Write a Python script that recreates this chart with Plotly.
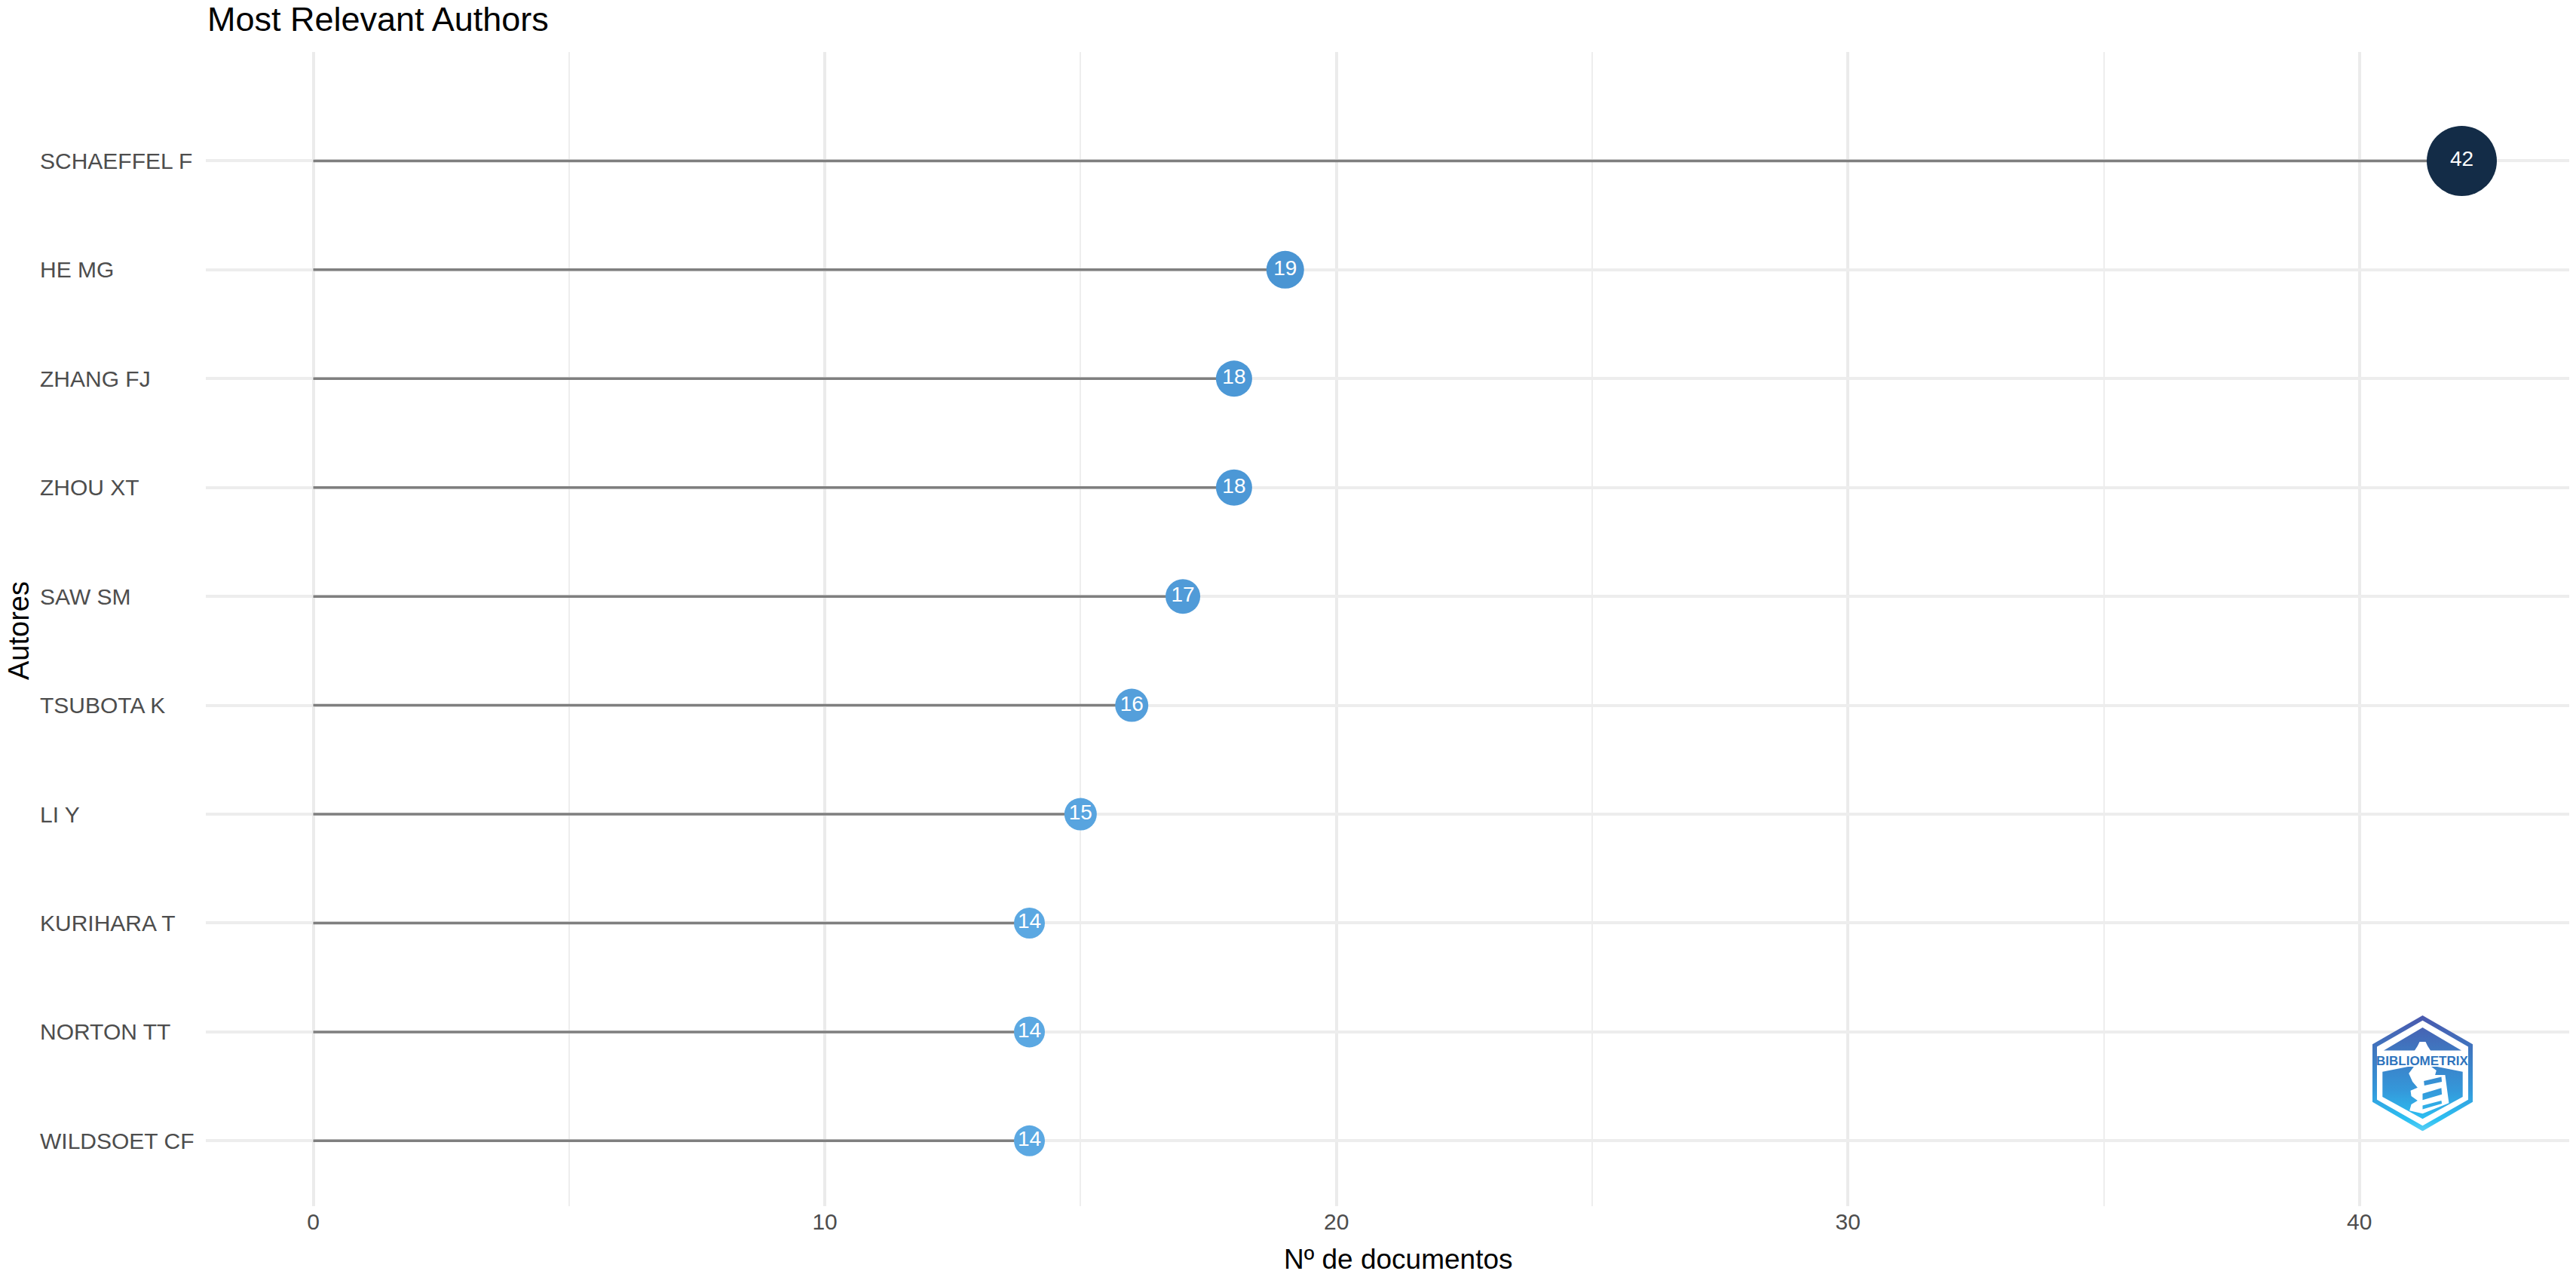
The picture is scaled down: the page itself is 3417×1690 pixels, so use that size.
import base64
import plotly.graph_objects as go

# Data (bottom to top, as drawn on the category axis)
authors = ["WILDSOET CF", "NORTON TT", "KURIHARA T", "LI Y", "TSUBOTA K",
           "SAW SM", "ZHOU XT", "ZHANG FJ", "HE MG", "SCHAEFFEL F"]
documents = [14, 14, 14, 15, 16, 17, 18, 18, 19, 42]
x_ticks = [0, 10, 20, 30, 40]
x_minor_ticks = [5, 15, 25, 35]

title_text = "Most Relevant Authors"
x_title = "Nº de documentos"
y_title = "Autores"
logo_text = "BIBLIOMETRIX"

# Style
FONT = "Liberation Sans"
marker_px = {14: 41, 15: 43, 16: 44, 17: 46, 18: 48, 19: 50, 42: 93}
marker_col = {14: "#5ba8e2", 15: "#58a4df", 16: "#549fdb", 17: "#509bd8",
              18: "#4c98d6", 19: "#4a95d3", 42: "#132c47"}

W, H = 3417, 1690
L, R, T, B = 273, 3408, 69, 1600   # panel edges in pixels
PW, PH = R - L, B - T


def px(x):
    return (x - L) / PW


def py(y):
    return (B - y) / PH


logo_svg = """<svg xmlns="http://www.w3.org/2000/svg" viewBox="290 140 400 462" width="800" height="924">
<defs><linearGradient id="g" gradientUnits="userSpaceOnUse" x1="0" y1="140" x2="0" y2="602">
<stop offset="0" stop-color="#4a58ad"/><stop offset="0.3" stop-color="#3f77c0"/>
<stop offset="0.65" stop-color="#3498da"/><stop offset="0.9" stop-color="#2cc0f2"/>
<stop offset="1" stop-color="#5cd0f5"/></linearGradient></defs>
<path fill="url(#g)" d="M490 140 L690 255 L690 485 L490 602 L290 485 L290 255 Z"/>
<path fill="#ffffff" d="M490 160 L672 265 L672 476 L490 580 L308 476 L308 265 Z"/>
<path fill="url(#g)" d="M490 188 L645 280 L335 280 Z"/>
<path fill="url(#g)" d="M330 365 L432 345 L548 345 L650 365 L650 465 L490 553 L330 465 Z"/>
<path fill="#ffffff" d="M478 245 L502 245 L510 262 L525 285 L525 345 L545 360 L540 378 L580 378 L595 490 L490 532 L438 520 L445 495 L470 480 L445 462 L442 440 L470 428 L450 405 L435 372 L455 345 L455 285 L470 262 Z"/>
<path fill="url(#g)" d="M495 402 L565 385 L567 405 L497 420 Z"/>
<path fill="url(#g)" d="M490 452 L565 430 L567 455 L490 478 Z"/>
<path fill="url(#g)" d="M490 500 L565 480 L567 492 L490 515 Z"/>
</svg>"""
logo_uri = "data:image/svg+xml;base64," + base64.b64encode(logo_svg.encode()).decode()

stem_x, stem_y = [], []
for a, d in zip(authors, documents):
    stem_x += [0, d, None]
    stem_y += [a, a, None]

fig = go.Figure()
fig.add_trace(go.Scatter(x=stem_x, y=stem_y, mode="lines",
                         line=dict(color="#7f7f7f", width=3.5),
                         hoverinfo="skip", showlegend=False))
fig.add_trace(go.Scatter(x=documents, y=authors, mode="markers+text",
                         text=[str(d) for d in documents],
                         textposition="middle center",
                         textfont=dict(family=FONT, size=28, color="#ffffff"),
                         marker=dict(size=[marker_px[d] for d in documents],
                                     color=[marker_col[d] for d in documents],
                                     line=dict(width=0), opacity=1),
                         showlegend=False))

annotations = [
    dict(text=a, xref="paper", yref="y", x=px(51), y=a, xanchor="left", yanchor="middle",
         showarrow=False, font=dict(family=FONT, size=30, color="#4d4d4d"))
    for a in authors
]
annotations += [
    dict(text=x_title, xref="paper", yref="paper", x=px(1855), y=py(1670),
         xanchor="center", yanchor="middle", showarrow=False,
         font=dict(family=FONT, size=37, color="#000000")),
    dict(text=y_title, xref="paper", yref="paper", x=px(25), y=py(837),
         xanchor="center", yanchor="middle", textangle=-90, showarrow=False,
         font=dict(family=FONT, size=38, color="#000000")),
    dict(text="<b>" + logo_text + "</b>", xref="paper", yref="paper", x=px(3213), y=py(1407),
         xanchor="center", yanchor="middle", showarrow=False,
         font=dict(family=FONT, size=17, color="#2f74bd")),
]

fig.update_layout(
    width=W, height=H, autosize=False,
    paper_bgcolor="#ffffff", plot_bgcolor="#ffffff",
    margin=dict(l=L, r=W - R, t=T, b=H - B, pad=0),
    font=dict(family=FONT),
    title=dict(text=title_text, x=px(275), xref="paper", xanchor="left",
               y=1 - 25 / H, yref="container", yanchor="middle",
               font=dict(family=FONT, size=45, color="#000000")),
    xaxis=dict(range=[-2.1, 44.1], tickmode="array", tickvals=x_ticks,
               ticktext=[str(t) for t in x_ticks], ticks="", showline=False, zeroline=False,
               showgrid=True, gridcolor="#ebebeb", gridwidth=3.5,
               tickfont=dict(family=FONT, size=30, color="#4d4d4d"),
               minor=dict(tickmode="array", tickvals=x_minor_ticks, showgrid=True,
                          gridcolor="#eeeeee", gridwidth=2, ticks="")),
    yaxis=dict(type="category", categoryorder="array", categoryarray=authors,
               range=[-0.6, 10.0], showticklabels=False, ticks="", showline=False,
               zeroline=False, showgrid=True, gridcolor="#ededed", gridwidth=4),
    annotations=annotations,
    images=[dict(source=logo_uri, xref="paper", yref="paper",
                 x=px(3147), y=py(1347), sizex=133 / PW, sizey=153.5 / PH,
                 xanchor="left", yanchor="top", sizing="stretch", layer="above")],
)

fig.write_html("out.html", config=dict(displayModeBar=False),
               post_script="document.body.style.margin='0';document.documentElement.style.margin='0';")
